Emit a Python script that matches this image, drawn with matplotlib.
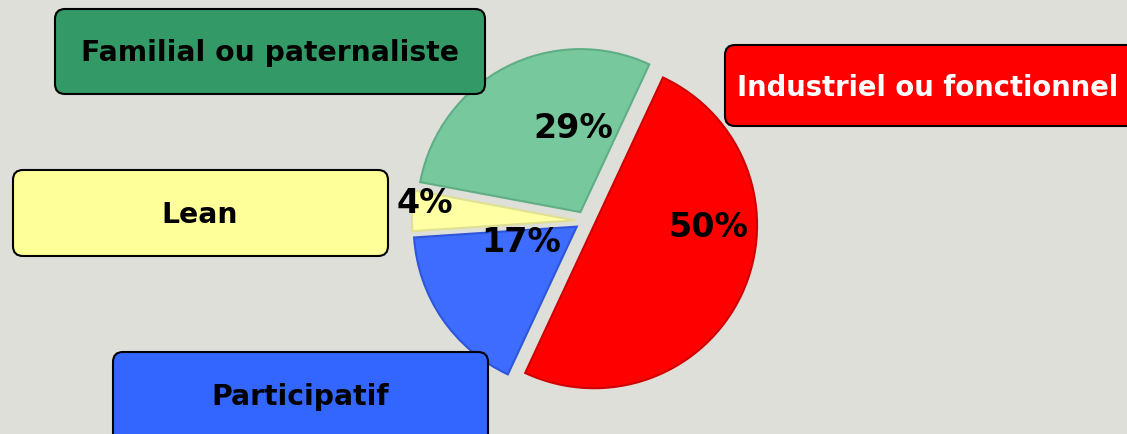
import matplotlib.pyplot as plt
from matplotlib.patches import FancyBboxPatch

# données du graphique
categories = ['Industriel ou fonctionnel', 'Participatif', 'Lean', 'Familial ou paternaliste']
shares = [50, 17, 4, 29]
slice_colors = ['#ff0000', '#3d6cff', '#ffffa3', '#78c89e']
edge_colors = ['#d00000', '#2e56d8', '#e0e095', '#5fae86']
box_colors = ['#ff0000', '#3366ff', '#ffff99', '#339966']
text_colors = ['white', 'black', 'black', 'black']
text_sizes = [19.8, 20.3, 20.3, 20.3]

W, H = 1127, 435
bg = '#dfdfda'

# positions en pixels (x, y depuis le haut)
box_rects = [(725, 46, 450, 81), (113, 353, 375, 95), (13, 171, 375, 86), (55, 10, 430, 85)]
box_text = [(737, 88, 'left'), (300, 397, 'center'), (200, 215, 'center'), (270, 53, 'center')]
pct_xy = [(708, 228), (521, 243), (425, 204), (573, 129)]

fig = plt.figure(figsize=(W / 100, H / 100), dpi=100)
fig.patch.set_facecolor(bg)
ax = fig.add_axes([0, 0, 1, 1])
ax.set_facecolor(bg)

radius = 163
wedges, texts, autotexts = ax.pie(
    shares, colors=slice_colors, startangle=65, counterclock=False,
    center=(585, H - 222), radius=radius, explode=[10] * 4,
    autopct='%d%%', frame=True,
    wedgeprops=dict(linewidth=1.5),
    textprops=dict(fontsize=24, fontweight='bold', family='DejaVu Sans'))
for w, ec in zip(wedges, edge_colors):
    w.set_edgecolor(ec)
for t, (px, py) in zip(autotexts, pct_xy):
    t.set_position((px, H - py))
    t.set_ha('center')
    t.set_va('center')

for (x0, y0, bw, bh), fc, (tx, ty, ha), lab, tc, fs in zip(
        box_rects, box_colors, box_text, categories, text_colors, text_sizes):
    ax.add_patch(FancyBboxPatch((x0, H - y0 - bh), bw, bh,
                                boxstyle='round,pad=0,rounding_size=10',
                                fc=fc, ec='black', lw=1.5, zorder=3))
    ax.text(tx, H - ty, lab, ha=ha, va='center', color=tc, fontsize=fs,
            fontweight='bold', family='DejaVu Sans', zorder=4)

ax.set_xlim(0, W)
ax.set_ylim(0, H)
ax.set_aspect('equal')
ax.axis('off')

fig.savefig('out.png', dpi=100, facecolor=bg)
